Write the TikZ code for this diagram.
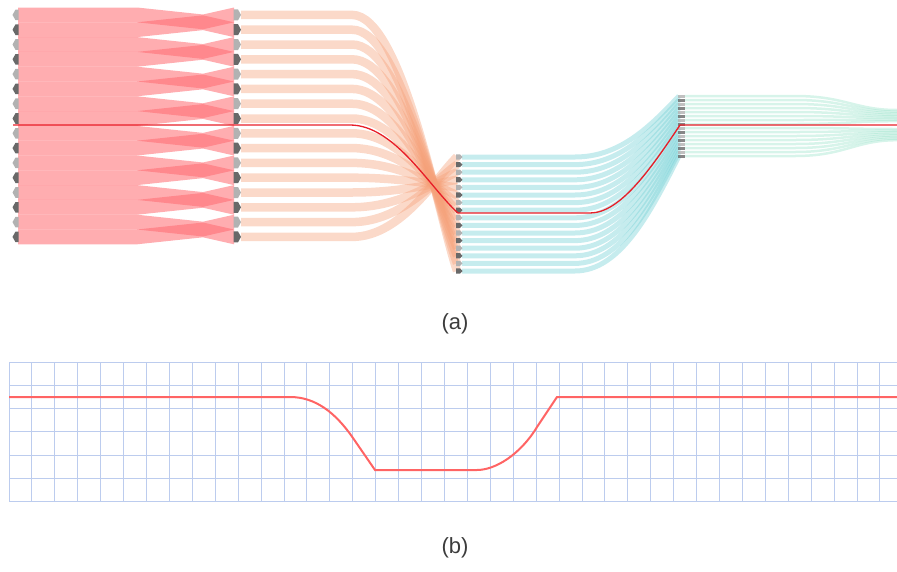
\documentclass[tikz,border=0pt]{standalone}
\usepackage{fontspec}
\setmainfont{Liberation Sans}
\definecolor{pinkc}{RGB}{255,105,112}
\definecolor{orc}{RGB}{245,160,120}
\definecolor{cyc}{RGB}{120,210,215}
\definecolor{mintc}{RGB}{150,225,200}
\definecolor{redl}{RGB}{232,30,40}
\definecolor{redb}{RGB}{255,100,100}
\definecolor{gridc}{RGB}{188,204,238}
\definecolor{mkl}{RGB}{178,178,178}
\definecolor{mkd}{RGB}{105,105,105}
\definecolor{labc}{RGB}{60,60,60}
\begin{document}
\begin{tikzpicture}[x=1pt,y=-1pt,
  pinkband/.style={fill=pinkc, opacity=0.55},
  orband/.style={draw=orc, opacity=0.4, line width=8.5pt},
  cyband/.style={draw=cyc, opacity=0.42, line width=5pt},
  mintline/.style={draw=mintc, opacity=0.38, line width=2.5pt},
  redpath/.style={draw=redl, line width=1.3pt},
  gridline/.style={draw=gridc, line width=1pt},
  lab/.style={font=\fontsize{22}{26}\selectfont, text=labc}]
\useasboundingbox (0,0) rectangle (897,571);
% ---------- (a) pink bundle ----------
\foreach \k in {0,...,15}{
  \pgfmathsetmacro{\yt}{7.5+14.8*\k}
  \pgfmathsetmacro{\yb}{\yt+14.8}
  \pgfmathsetmacro{\ytm}{\yt+7-14*mod(\k,2)}
  \pgfmathsetmacro{\ybm}{\yb+7-14*mod(\k,2)}
  \fill[pinkband] (18,\yt) -- (137,\yt) -- (203,\ytm) -- (234,\yt) -- (234,\yb) -- (203,\ybm) -- (137,\yb) -- (18,\yb) -- cycle;
}
% ---------- orange bands ----------
\foreach \k in {0,...,15}{
  \pgfmathsetmacro{\oy}{14.9+14.8*\k}
  \pgfmathsetmacro{\oe}{157+7.6*(15-\k)}
  \pgfmathsetmacro{\oq}{\oe-0.22*(\oe-\oy)}
  \draw[orband] (241,\oy) -- (352,\oy) .. controls (402,\oy) and (438,\oq) .. (457,\oe);
}
% ---------- cyan bands ----------
\foreach \j in {0,...,15}{
  \pgfmathsetmacro{\cp}{157+7.6*\j}
  \pgfmathsetmacro{\cr}{96+4*\j}
  \pgfmathsetmacro{\cq}{\cr+0.5*(\cp-\cr)}
  \draw[cyband] (462,\cp) -- (575,\cp) .. controls (620,\cp) and (650,\cq) .. (679,\cr);
}
% ---------- mint lines ----------
\foreach \j in {0,...,15}{
  \pgfmathsetmacro{\mr}{96+4*\j}
  \pgfmathsetmacro{\me}{\j<8 ? 110+1.6*\j : 129+1.6*(\j-8)}
  \draw[mintline] (685,\mr) -- (795,\mr) .. controls (845,\mr) and (855,\me) .. (897,\me);
}
% ---------- markers ----------
\foreach \k in {0,...,15}{
  \pgfmathsetmacro{\my}{14.9+14.8*\k}
  \ifodd\k \def\mc{mkd}\else\def\mc{mkl}\fi
  \fill[fill=\mc] (12.5,\my) -- (15.5,\my-5.3) -- (18.5,\my-5.3) -- (18.5,\my+5.3) -- (15.5,\my+5.3) -- cycle;
  \fill[fill=\mc] (233.5,\my-5.5) -- (238,\my-5.5) -- (241,\my) -- (238,\my+5.5) -- (233.5,\my+5.5) -- cycle;
  \pgfmathsetmacro{\cy}{157+7.6*\k}
  \fill[fill=\mc] (456,\cy-2.6) -- (460,\cy-2.6) -- (462.5,\cy) -- (460,\cy+2.6) -- (456,\cy+2.6) -- cycle;
  \pgfmathsetmacro{\ry}{96+4*\k}
  \fill[fill=\mc, opacity=0.8] (678,\ry-1.5) rectangle (684.5,\ry+1.5);
}
% ---------- red path (a) ----------
\draw[redpath] (13,125) -- (350,125) .. controls (395,125) and (430,188) .. (458,213) -- (590,213) .. controls (620,213) and (650,170) .. (680,125) -- (897,125);
\node[lab] (la) at (455,324) {(a)};
% ---------- (b) grid ----------
\foreach \i in {0,...,38}{
  \draw[gridline] ({9+22.92*\i},362) -- ({9+22.92*\i},502);
}
\foreach \i in {0,...,6}{
  \draw[gridline] (9,{362+23.33*\i}) -- (897,{362+23.33*\i});
}
\draw[draw=redb, line width=2pt] (9,397) -- (290,397) .. controls (315,397) and (335,412) .. (353,438) -- (375,470) -- (477,470) .. controls (495,470) and (520,455) .. (537,427) -- (557,397) -- (897,397);
\node[lab] (lb) at (455,548) {(b)};
\end{tikzpicture}
\end{document}
